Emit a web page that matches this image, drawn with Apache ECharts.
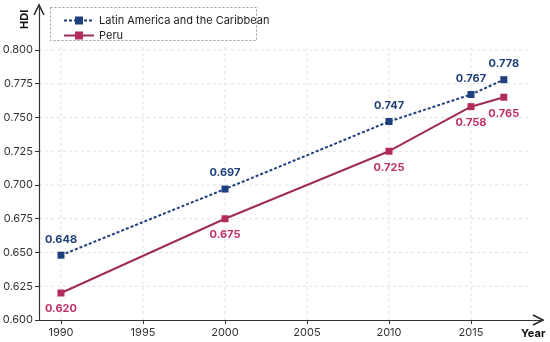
<!DOCTYPE html>
<html><head><meta charset="utf-8">
<script src="https://cdn.jsdelivr.net/npm/echarts@6/dist/echarts.min.js"></script>
<style>html,body{margin:0;padding:0;background:#fff}#c{width:550px;height:342px}</style>
</head><body><div id="c"></div>
<script>
const years = [1990, 2000, 2010, 2015, 2017];
const lac = [0.648, 0.697, 0.747, 0.767, 0.778];
const peru = [0.620, 0.675, 0.725, 0.758, 0.765];
const xTicks = [1990, 1995, 2000, 2005, 2010, 2015];
const yTicks = [0.600, 0.625, 0.650, 0.675, 0.700, 0.725, 0.750, 0.775, 0.800];
const seriesNames = ['Latin America and the Caribbean', 'Peru'];

const FONT = 'Inter, "Liberation Sans", sans-serif';
const X_MIN = 1988.66, X_MAX = 2019.39, Y_MIN = 0.6, Y_MAX = 0.8333;
const GRID_X_END = 2018.5, GRID_Y_END = 0.8025;
const G = {left: 39, right: 7, top: 5, bottom: 22};
const W = 550, H = 342;
const ax = W - G.right, ay = H - G.bottom;
const gridLine = {stroke: '#e2e2e2', lineWidth: 1, lineDash: [3, 3]};
const chart = echarts.init(document.getElementById('c'));
chart.setOption({
  animation: false,
  grid: Object.assign({outerBoundsMode: 'none', containLabel: false}, G),
  legend: {
    orient: 'vertical', left: 58, top: 10, itemGap: 4, itemWidth: 30, itemHeight: 10,
    textStyle: {fontFamily: FONT, fontSize: 11, color: '#222'},
    data: seriesNames
  },
  graphic: [
    {type: 'rect', shape: {x: 50.5, y: 7.5, width: 206, height: 33}, style: {fill: '#fff', stroke: '#999', lineWidth: 1, lineDash: [2, 2]}},
    {type: 'text', x: 19, y: 29, rotation: Math.PI / 2, style: {text: 'HDI', font: 'bold 11px ' + FONT, fill: '#111'}},
    {type: 'text', x: 521, y: 328, style: {text: 'Year', font: 'bold 11px ' + FONT, fill: '#111'}},
    {type: 'polyline', shape: {points: [[ax - 10, ay - 5], [ax, ay], [ax - 10, ay + 5]]}, style: {stroke: '#222', lineWidth: 1.5, fill: 'none'}},
    {type: 'polyline', shape: {points: [[G.left - 5, G.top + 10], [G.left, G.top], [G.left + 5, G.top + 10]]}, style: {stroke: '#222', lineWidth: 1.5, fill: 'none'}}
  ],
  xAxis: {
    type: 'value', min: X_MIN, max: X_MAX,
    axisLine: {lineStyle: {color: '#333', width: 1.2}},
    axisTick: {customValues: xTicks, length: 4, lineStyle: {color: '#333'}},
    axisLabel: {customValues: xTicks, fontFamily: FONT, fontSize: 11, color: '#333', margin: 7, formatter: v => String(v)},
    splitLine: {show: false}
  },
  yAxis: {
    type: 'value', min: Y_MIN, max: Y_MAX,
    axisLine: {show: true, lineStyle: {color: '#333', width: 1.2}},
    axisTick: {show: true, customValues: yTicks, length: 4, lineStyle: {color: '#333'}},
    axisLabel: {customValues: yTicks, fontFamily: FONT, fontSize: 11, color: '#333', margin: 6, formatter: v => v.toFixed(3)},
    splitLine: {show: false}
  },
  series: [
    {
      type: 'custom', silent: true, z: 0, data: xTicks.map(v => [v]),
      renderItem: (params, api) => {
        const a = api.coord([api.value(0), Y_MIN]), b = api.coord([api.value(0), GRID_Y_END]);
        return {type: 'line', shape: {x1: a[0], y1: a[1], x2: b[0], y2: b[1]}, style: gridLine};
      }
    },
    {
      type: 'custom', silent: true, z: 0, data: yTicks.slice(1).map(v => [v]),
      renderItem: (params, api) => {
        const a = api.coord([X_MIN, api.value(0)]), b = api.coord([GRID_X_END, api.value(0)]);
        return {type: 'line', shape: {x1: a[0], y1: a[1], x2: b[0], y2: b[1]}, style: gridLine};
      },
      encode: {y: 0}
    },
    {
      name: seriesNames[0], type: 'line', data: years.map((y, i) => [y, lac[i]]), z: 3,
      symbol: 'rect', symbolSize: 7, itemStyle: {color: '#1f3f7f', borderWidth: 0},
      lineStyle: {color: '#1f3f7f', width: 2, type: [3, 2]},
      label: {show: true, position: 'top', distance: 7, formatter: p => p.value[1].toFixed(3),
        fontFamily: FONT, fontSize: 11, fontWeight: 'bold', color: '#1f3f77'}
    },
    {
      name: seriesNames[1], type: 'line', data: years.map((y, i) => [y, peru[i]]), z: 3,
      symbol: 'rect', symbolSize: 7, itemStyle: {color: '#b52a5c', borderWidth: 0},
      lineStyle: {color: '#9e2d55', width: 2},
      label: {show: true, position: 'bottom', distance: 7, formatter: p => p.value[1].toFixed(3),
        fontFamily: FONT, fontSize: 11, fontWeight: 'bold', color: '#c0306a'}
    }
  ]
});
</script></body></html>
